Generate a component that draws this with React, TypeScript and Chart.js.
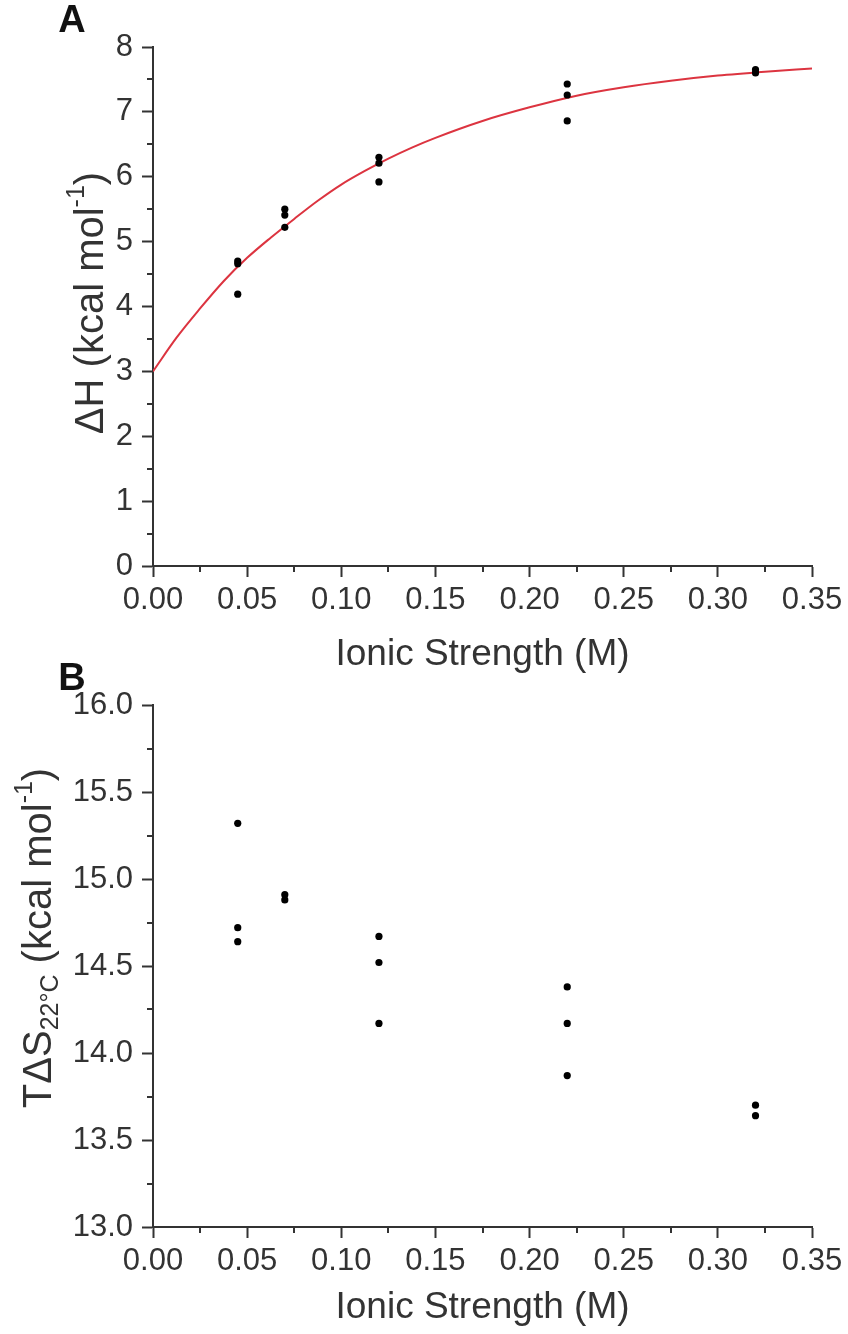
import React, { useEffect, useRef } from "react";
import { Chart, registerables } from "chart.js";

Chart.register(...registerables);

// ---------- data ----------
const ionicA = [0.045, 0.045, 0.045, 0.07, 0.07, 0.07, 0.12, 0.12, 0.12, 0.22, 0.22, 0.22, 0.32, 0.32];
const deltaH = [4.7, 4.66, 4.19, 5.5, 5.41, 5.22, 6.3, 6.21, 5.92, 7.43, 7.26, 6.86, 7.65, 7.6];

const fitX = [0, 0.0125, 0.025, 0.0375, 0.05, 0.0625, 0.075, 0.0875, 0.1, 0.1125, 0.125, 0.1375, 0.15, 0.175, 0.2, 0.225, 0.25, 0.275, 0.3, 0.325, 0.35];
const fitY = [3.0, 3.52, 3.97, 4.39, 4.75, 5.06, 5.35, 5.63, 5.88, 6.09, 6.28, 6.45, 6.6, 6.86, 7.07, 7.25, 7.38, 7.48, 7.56, 7.62, 7.67];

const ionicB = [0.045, 0.045, 0.045, 0.07, 0.07, 0.12, 0.12, 0.12, 0.22, 0.22, 0.22, 0.32, 0.32];
const tDeltaS = [15.32, 14.72, 14.64, 14.91, 14.88, 14.67, 14.52, 14.17, 14.38, 14.17, 13.87, 13.7, 13.64];

const xTitle = "Ionic Strength (M)";
const yTitleA = [
  { t: "ΔH (kcal mol", k: "n" },
  { t: "-1", k: "sup" },
  { t: ")", k: "n" },
];
const yTitleB = [
  { t: "TΔS", k: "n" },
  { t: "22°C", k: "sub" },
  { t: " (kcal mol", k: "n" },
  { t: "-1", k: "sup" },
  { t: ")", k: "n" },
];

// ---------- styles ----------
const FONT = '"Liberation Sans", Arial, sans-serif';
const INK = "#333333";
const TICK_SIZE = 31;
const W = 848;

type Seg = { t: string; k: string };

function drawRich(ctx: CanvasRenderingContext2D, segs: Seg[], cx: number, cy: number, rotate: boolean, size: number) {
  const small = Math.round(size * 0.62);
  ctx.save();
  ctx.translate(cx, cy);
  if (rotate) ctx.rotate(-Math.PI / 2);
  ctx.fillStyle = INK;
  ctx.textBaseline = "middle";
  ctx.textAlign = "left";
  const sizeOf = (s: Seg) => (s.k === "n" ? size : small);
  let total = 0;
  for (const s of segs) {
    ctx.font = `${sizeOf(s)}px ${FONT}`;
    total += ctx.measureText(s.t).width;
  }
  let x = -total / 2;
  for (const s of segs) {
    ctx.font = `${sizeOf(s)}px ${FONT}`;
    const dy = s.k === "sup" ? -size * 0.36 : s.k === "sub" ? size * 0.28 : 0;
    ctx.fillText(s.t, x, dy);
    x += ctx.measureText(s.t).width;
  }
  ctx.restore();
}

function makeDecor(
  letter: string,
  letterY: number,
  yTitle: Seg[],
  yTitleX: number,
  yTitleY: number,
  yTitleSize: number,
  xTitleY: number
) {
  return {
    id: "decor" + letter,
    afterDraw(chart: any) {
      const { ctx, chartArea, scales } = chart;
      ctx.save();
      ctx.strokeStyle = INK;
      ctx.lineWidth = 2;
      // minor ticks on y
      const ys = scales.y;
      const yv = ys.ticks.map((t: any) => t.value);
      ctx.beginPath();
      for (let i = 0; i < yv.length - 1; i++) {
        const p = Math.round(ys.getPixelForValue((yv[i] + yv[i + 1]) / 2));
        ctx.moveTo(chartArea.left, p);
        ctx.lineTo(chartArea.left - 6, p);
      }
      // minor ticks on x
      const xs = scales.x;
      const xv = xs.ticks.map((t: any) => t.value);
      for (let i = 0; i < xv.length - 1; i++) {
        const p = Math.round(xs.getPixelForValue((xv[i] + xv[i + 1]) / 2));
        ctx.moveTo(p, chartArea.bottom);
        ctx.lineTo(p, chartArea.bottom + 6);
      }
      ctx.stroke();
      // panel letter
      ctx.fillStyle = "#111111";
      ctx.font = `bold 38px ${FONT}`;
      ctx.textAlign = "center";
      ctx.textBaseline = "middle";
      ctx.fillText(letter, 72, letterY);
      ctx.restore();
      // titles
      drawRich(ctx, [{ t: xTitle, k: "n" }], (chartArea.left + chartArea.right) / 2, xTitleY, false, 37);
      drawRich(ctx, yTitle, yTitleX, yTitleY, true, yTitleSize);
    },
  };
}

function xAxis(xAxisHeight: number) {
  const tickFont = { family: FONT, size: TICK_SIZE };
  return {
    type: "linear",
    min: 0,
    max: 0.35,
    ticks: {
      stepSize: 0.05,
      font: tickFont,
      color: INK,
      padding: 5,
      maxRotation: 0,
      autoSkip: false,
      callback: (v: any) => Number(v).toFixed(2),
    },
    grid: { drawOnChartArea: false, drawTicks: true, tickLength: 11, tickColor: INK, tickWidth: 2 },
    border: { display: true, color: INK, width: 2 },
    afterFit: (s: any) => {
      s.height = xAxisHeight;
    },
  };
}

export default function App() {
  const refA = useRef<HTMLCanvasElement>(null);
  const refB = useRef<HTMLCanvasElement>(null);

  useEffect(() => {
    document.body.style.margin = "0";
    const tickFont = { family: FONT, size: TICK_SIZE };

    const hA = 690;
    const chartA = new Chart(refA.current as HTMLCanvasElement, {
      type: "scatter",
      data: {
        datasets: [
          {
            type: "line",
            data: fitX.map((x, i) => ({ x, y: fitY[i] })),
            borderColor: "#dc3440",
            borderWidth: 2,
            pointRadius: 0,
            cubicInterpolationMode: "monotone",
            order: 2,
          } as any,
          {
            data: ionicA.map((x, i) => ({ x, y: deltaH[i] })),
            backgroundColor: "#000000",
            borderWidth: 0,
            pointRadius: 3.6,
            order: 1,
          },
        ],
      },
      options: {
        animation: false,
        responsive: false,
        layout: { padding: { left: 0, right: 36, top: 47, bottom: 0 } },
        plugins: { legend: { display: false }, tooltip: { enabled: false } },
        scales: {
          x: xAxis(hA - 566) as any,
          y: {
            type: "linear",
            min: 0,
            max: 8,
            ticks: { stepSize: 1, font: tickFont, color: INK, padding: 9 },
            grid: { drawOnChartArea: false, drawTicks: true, tickLength: 11, tickColor: INK, tickWidth: 2 },
            border: { display: true, color: INK, width: 2 },
            afterFit: (s: any) => {
              s.width = 153;
            },
          },
        },
      },
      plugins: [makeDecor("A", 22, yTitleA, 92, 303, 40, 655)],
    });

    const topB = 650;
    const hB = 1334 - topB;
    const chartB = new Chart(refB.current as HTMLCanvasElement, {
      type: "scatter",
      data: {
        datasets: [
          {
            data: ionicB.map((x, i) => ({ x, y: tDeltaS[i] })),
            backgroundColor: "#000000",
            borderWidth: 0,
            pointRadius: 3.6,
          },
        ],
      },
      options: {
        animation: false,
        responsive: false,
        layout: { padding: { left: 0, right: 36, top: 705 - topB, bottom: 0 } },
        plugins: { legend: { display: false }, tooltip: { enabled: false } },
        scales: {
          x: xAxis(hB - (1227 - topB)) as any,
          y: {
            type: "linear",
            min: 13,
            max: 16,
            ticks: {
              stepSize: 0.5,
              font: tickFont,
              color: INK,
              padding: 9,
              callback: (v: any) => Number(v).toFixed(1),
            },
            grid: { drawOnChartArea: false, drawTicks: true, tickLength: 11, tickColor: INK, tickWidth: 2 },
            border: { display: true, color: INK, width: 2 },
            afterFit: (s: any) => {
              s.width = 153;
            },
          },
        },
      },
      plugins: [makeDecor("B", 680 - topB, yTitleB, 40, 938 - topB, 40, 1308 - topB)],
    });

    return () => {
      chartA.destroy();
      chartB.destroy();
    };
  }, []);

  return (
    <div style={{ position: "relative", width: W, height: 1334, background: "#ffffff" }}>
      <canvas ref={refA} width={W} height={690} style={{ position: "absolute", left: 0, top: 0, width: W, height: 690 }} />
      <canvas
        ref={refB}
        width={W}
        height={1334 - 650}
        style={{ position: "absolute", left: 0, top: 650, width: W, height: 1334 - 650 }}
      />
    </div>
  );
}
